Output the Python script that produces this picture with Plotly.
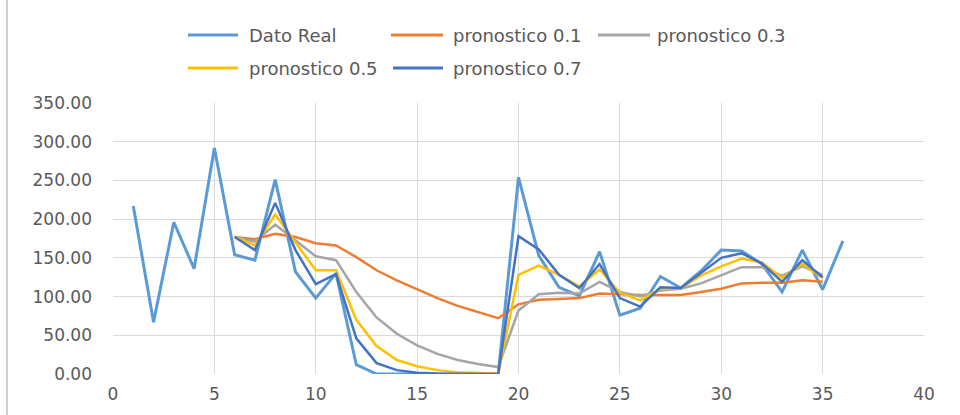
import plotly.graph_objects as go

# ---------------- data ----------------
periods = list(range(1, 37))
dato_real = [217, 67, 196, 136, 292, 154, 147, 251, 132, 98, 130, 12, 0, 0, 0, 0, 0, 0,
             0, 254, 153, 112, 101, 158, 76, 85, 126, 111, 133, 160, 159, 142, 106, 160,
             109, 172]

forecast_periods = list(range(6, 36))
pron_01 = [177, 174, 181, 177, 169, 166, 151, 134, 121, 109, 98, 88, 80, 72, 90, 96, 97,
           98, 104, 103, 102, 102, 102, 106, 110, 117, 118, 118, 121, 119]
pron_03 = [177, 171, 193, 173, 152, 147, 106, 73, 52, 37, 26, 18, 13, 9, 82, 103, 105,
           104, 119, 106, 100, 108, 110, 117, 127, 138, 138, 127, 139, 128]
pron_05 = [177, 166, 206, 170, 134, 134, 70, 36, 18, 10, 5, 2, 1, 0.5, 128, 140, 128,
           113, 135, 105, 95, 110, 111, 127, 139, 149, 144, 124, 142, 124]
pron_07 = [177, 160, 221, 160, 116, 129, 46, 14, 5, 1.5, 0.5, 0.2, 0.1, 0, 178, 161, 128,
           111, 142, 98, 87, 112, 111, 131, 150, 156, 143, 119, 147, 125]

series_names = ["Dato Real", "pronostico 0.1", "pronostico 0.3", "pronostico 0.5", "pronostico 0.7"]
x_ticks = [0, 5, 10, 15, 20, 25, 30, 35, 40]
y_ticks = [0, 50, 100, 150, 200, 250, 300, 350]

# ---------------- styling ----------------
colors = ["#5B9BD5", "#ED7D31", "#A5A5A5", "#FFC000", "#4472C4"]
widths = [3, 2.5, 2.5, 2.5, 2.5]
W, H = 960, 415
ML, MR, MT, MB = 113, 36, 103, 41
PW, PH = W - ML - MR, H - MT - MB
font_fam = "DejaVu Sans"
txt_col = "#595959"
grid_col = "#D9D9D9"

fig = go.Figure()
series_x = [periods, forecast_periods, forecast_periods, forecast_periods, forecast_periods]
series_y = [dato_real, pron_01, pron_03, pron_05, pron_07]
for name, xs, ys, c, w in zip(series_names, series_x, series_y, colors, widths):
    fig.add_trace(go.Scatter(x=xs, y=ys, mode="lines", name=name,
                             line=dict(color=c, width=w), showlegend=False))


def px_x(p):
    return (p - ML) / PW


def px_y(p):
    return (H - MB - p) / PH


# manual legend (Excel-like layout): (line start, line end, text start, row y)
legend_layout = [(188, 238, 247, 35), (391, 443, 451, 35), (598, 650, 655, 35),
                 (188, 238, 247, 68), (393, 443, 451, 68)]
shapes = []
annotations = []
for name, c, (x0, x1, xt, yy) in zip(series_names, colors, legend_layout):
    shapes.append(dict(type="line", xref="paper", yref="paper",
                       x0=px_x(x0), x1=px_x(x1), y0=px_y(yy), y1=px_y(yy),
                       line=dict(color=c, width=3)))
    annotations.append(dict(text=name, xref="paper", yref="paper", x=px_x(xt), y=px_y(yy),
                            xanchor="left", yanchor="middle", showarrow=False,
                            font=dict(family=font_fam, size=18, color=txt_col)))

# left border of chart area
shapes.append(dict(type="line", xref="paper", yref="paper",
                   x0=px_x(7), x1=px_x(7), y0=px_y(0), y1=px_y(H),
                   line=dict(color="#D0D0D0", width=2)))

fig.update_layout(
    width=W, height=H,
    margin=dict(l=ML, r=MR, t=MT, b=MB),
    paper_bgcolor="white", plot_bgcolor="white",
    showlegend=False,
    shapes=shapes, annotations=annotations,
    font=dict(family=font_fam, color=txt_col),
    xaxis=dict(range=[0, 40], tickvals=x_ticks, showgrid=True, gridcolor=grid_col,
               gridwidth=1, zeroline=False, showline=False, ticks="",
               tickfont=dict(family=font_fam, size=17, color=txt_col),
               ticklabelstandoff=8, fixedrange=True),
    yaxis=dict(range=[0, 350], tickvals=y_ticks, tickformat=".2f", showgrid=True,
               gridcolor=grid_col, gridwidth=1, zeroline=False, showline=False, ticks="",
               tickfont=dict(family=font_fam, size=17, color=txt_col),
               ticklabelstandoff=20, fixedrange=True),
)

fig.write_html("out.html",
               config={"displayModeBar": False, "staticPlot": True},
               post_script="document.body.style.margin='0';document.body.style.padding='0';"
                           "document.body.style.overflow='hidden';")
